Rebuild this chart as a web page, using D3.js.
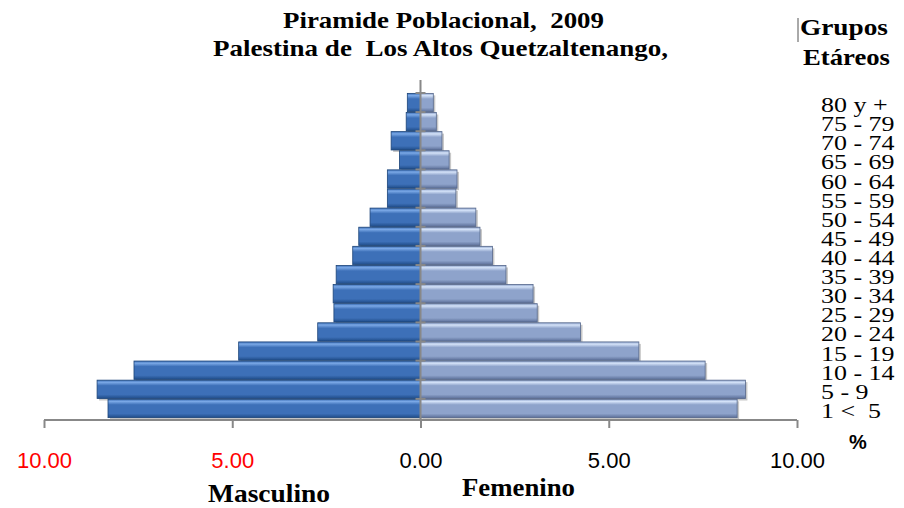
<!DOCTYPE html>
<meta charset="utf-8">
<style>
	body { margin: 0; background: #fff; }
	.title { font-family: "Liberation Serif", "Times New Roman", serif; font-weight: bold; font-size: 24px; }
	.grp { font-family: "Liberation Serif", "Times New Roman", serif; font-size: 22px; }
	.tick text { font-family: "Liberation Sans", Arial, sans-serif; font-size: 22px; }
</style>
<svg id="pyramid" width="904" height="508"></svg>
<script src="https://d3js.org/d3.v7.min.js"></script>
<script>
	// grupos etareos, de arriba hacia abajo
	var groups = ["80 y +", "75 - 79", "70 - 74", "65 - 69", "60 - 64", "55 - 59", "50 - 54",
		"45 - 49", "40 - 44", "35 - 39", "30 - 34", "25 - 29", "20 - 24", "15 - 19",
		"10 - 14", "5 - 9", "1 <  5"];
	// porcentajes
	var masculino = [0.35, 0.38, 0.78, 0.56, 0.88, 0.88, 1.34, 1.64, 1.80, 2.24, 2.32, 2.30, 2.73, 4.83, 7.61, 8.59, 8.30];
	var femenino = [0.34, 0.42, 0.57, 0.76, 0.97, 0.94, 1.47, 1.58, 1.91, 2.27, 2.99, 3.10, 4.25, 5.80, 7.56, 8.63, 8.41];
	var ticks = [-10, -5, 0, 5, 10];

	var svg = d3.select("#pyramid");

	var x = d3.scaleLinear().domain([-10, 10]).range([44, 797]);
	var y = d3.scaleBand().domain(groups).range([93, 418]).paddingInner(0.04).paddingOuter(0.02);

	// gradientes tipo bisel
	var defs = svg.append("defs");
	function grad(id, light, mid, dark) {
		var g = defs.append("linearGradient").attr("id", id)
			.attr("x1", 0).attr("y1", 0).attr("x2", 0).attr("y2", 1);
		g.append("stop").attr("offset", "0").attr("stop-color", mid);
		g.append("stop").attr("offset", "0.12").attr("stop-color", light);
		g.append("stop").attr("offset", "0.3").attr("stop-color", mid);
		g.append("stop").attr("offset", "0.78").attr("stop-color", mid);
		g.append("stop").attr("offset", "1").attr("stop-color", dark);
	}
	grad("gMale", "#7aa8e6", "#3d70b8", "#1f4c88");
	grad("gFem", "#d4e2f8", "#8ea3cb", "#5c6f98");

	var male = groups.map(function(g, i) { return {grp: g, v: masculino[i]}; });
	var fem = groups.map(function(g, i) { return {grp: g, v: femenino[i]}; });

	// sombra
	svg.append("g").selectAll("rect").data(male.concat(fem)).enter().append("rect")
		.attr("x", function(d, i) { return i < 17 ? x(-d.v) + 2 : x(0) + 2; })
		.attr("y", function(d) { return y(d.grp) + 2; })
		.attr("width", function(d) { return x(d.v) - x(0); })
		.attr("height", y.bandwidth())
		.attr("fill", "#c8c8c8");

	svg.append("g").selectAll("rect").data(male).enter().append("rect")
		.attr("x", function(d) { return x(-d.v); })
		.attr("y", function(d) { return y(d.grp); })
		.attr("width", function(d) { return x(0) - x(-d.v); })
		.attr("height", y.bandwidth())
		.attr("fill", "url(#gMale)")
		.attr("stroke", "#1d4579").attr("stroke-width", 0.8);

	svg.append("g").selectAll("rect").data(fem).enter().append("rect")
		.attr("x", x(0))
		.attr("y", function(d) { return y(d.grp); })
		.attr("width", function(d) { return x(d.v) - x(0); })
		.attr("height", y.bandwidth())
		.attr("fill", "url(#gFem)")
		.attr("stroke", "#56688c").attr("stroke-width", 0.8);

	// eje vertical central
	var vax = svg.append("g");
	vax.append("line").attr("x1", x(0)).attr("x2", x(0)).attr("y1", 80).attr("y2", 420)
		.attr("stroke", "#888").attr("stroke-width", 2);
	vax.selectAll(".vt").data(groups).enter().append("line")
		.attr("x1", x(0) - 5).attr("x2", x(0) + 5)
		.attr("y1", function(d) { return y(d) - y.step() * y.paddingInner() / 2; })
		.attr("y2", function(d) { return y(d) - y.step() * y.paddingInner() / 2; })
		.attr("stroke", "#888").attr("stroke-width", 2);

	// eje x
	var xAxis = svg.append("g")
		.attr("transform", "translate(0,420)")
		.call(d3.axisBottom(x).tickValues(ticks).tickSize(8).tickPadding(24)
			.tickFormat(function(d) { return Math.abs(d).toFixed(2); }));
	xAxis.select(".domain").attr("stroke", "#888").attr("stroke-width", 2).attr("d", "M44,0H797");
	xAxis.selectAll(".tick line").attr("stroke", "#888").attr("stroke-width", 2);
	xAxis.selectAll(".tick text").attr("fill", function(d) { return d < 0 ? "#ff0000" : "#000"; });

	// etiquetas de grupos
	svg.append("g").selectAll("text").data(groups).enter().append("text")
		.attr("class", "grp")
		.attr("transform", function(d) { return "translate(821," + (y(d) + y.bandwidth() / 2 + 9.5) + ") scale(1.18,1)"; })
		.style("white-space", "pre")
		.text(function(d) { return d; });

	// titulos
	function label(txt, cx, by, len, size) {
		svg.append("text").attr("class", "title")
			.attr("x", cx).attr("y", by)
			.attr("text-anchor", "middle")
			.attr("textLength", len).attr("lengthAdjust", "spacingAndGlyphs")
			.style("white-space", "pre")
			.style("font-size", size + "px")
			.text(txt);
	}
	label("Piramide Poblacional,  2009", 443.5, 28, 321, 24);
	label("Palestina de  Los Altos Quetzaltenango,", 440.5, 56, 455, 24);
	label("Grupos", 844, 35, 88, 24);
	label("Etáreos", 846.5, 65, 87, 24);
	label("Masculino", 269, 502, 122, 26);
	label("Femenino", 518.5, 496, 113, 26);
	svg.append("line").attr("x1", 798).attr("x2", 798).attr("y1", 18).attr("y2", 42)
		.attr("stroke", "#555").attr("stroke-width", 1);
	svg.append("text").attr("x", 858).attr("y", 449)
		.attr("text-anchor", "middle")
		.style("font-family", "Liberation Sans, Arial, sans-serif").style("font-weight", "bold").style("font-size", "20px")
		.text("%");
</script>
